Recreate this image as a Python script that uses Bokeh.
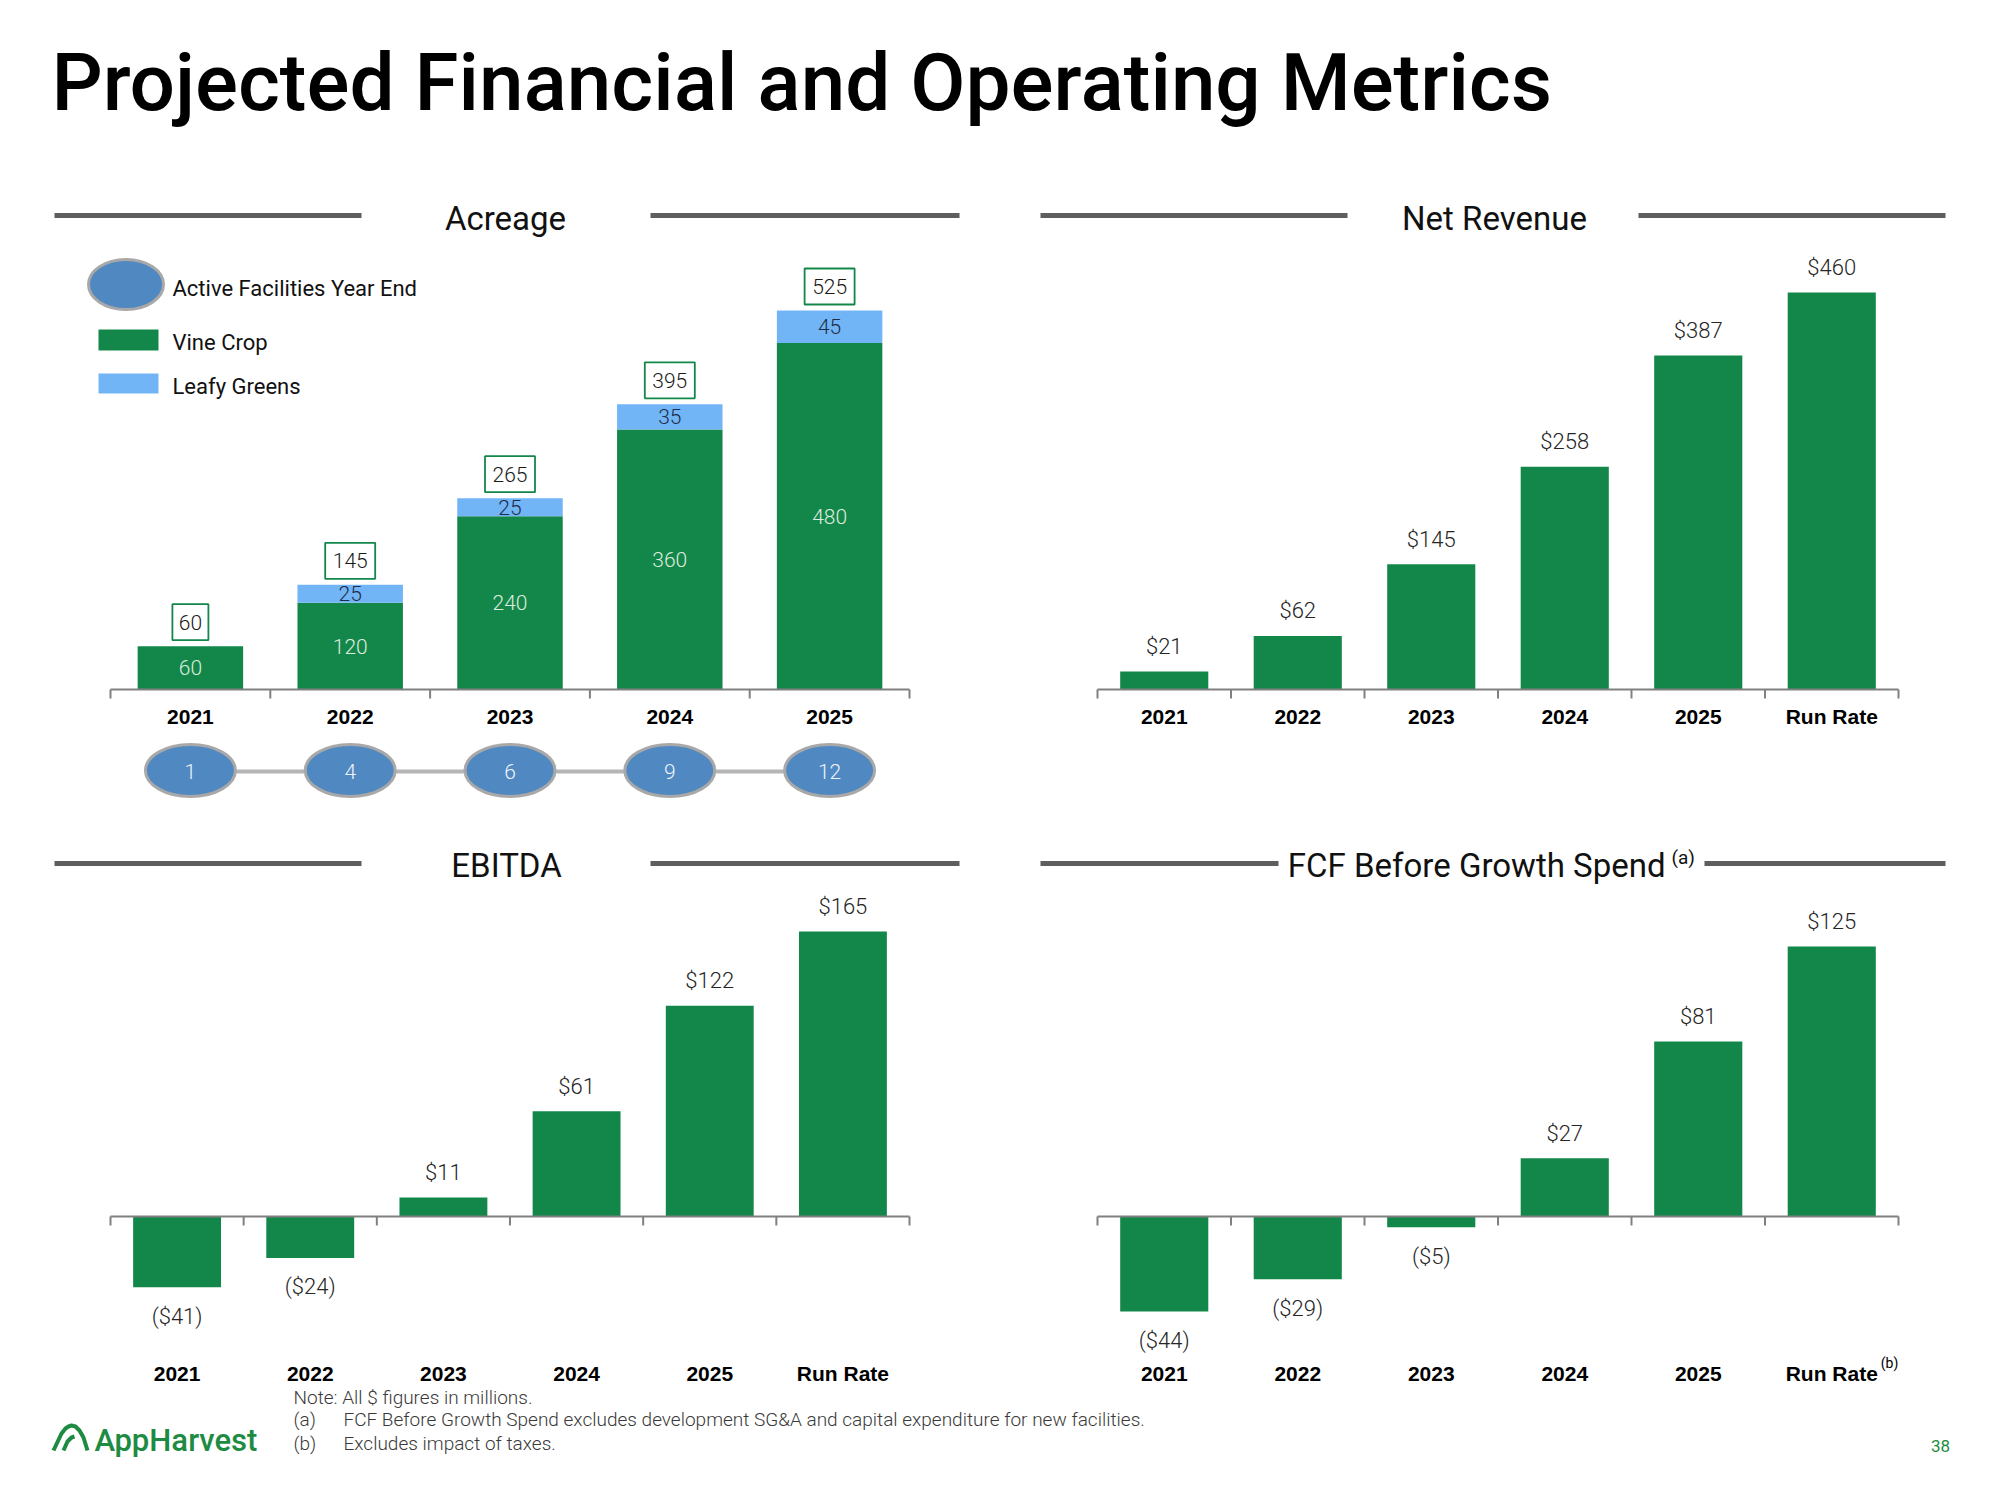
import math
from bokeh.plotting import figure
from bokeh.models import Range1d, FactorRange, Spacer
from bokeh.layouts import column, row
from bokeh.embed import file_html
from bokeh.resources import INLINE
from bokeh.core.properties import value

# ---------------- data ----------------
acre_years = ["2021", "2022", "2023", "2024", "2025"]
vine_crop = [60, 120, 240, 360, 480]
leafy_greens = [0, 25, 25, 35, 45]
facilities = [1, 4, 6, 9, 12]

fin_periods = ["2021", "2022", "2023", "2024", "2025", "Run Rate"]
net_revenue = [21, 62, 145, 258, 387, 460]
ebitda = [-41, -24, 11, 61, 122, 165]
fcf = [-44, -29, -5, 27, 81, 125]

# ---------------- style ----------------
GREEN = "#13874A"
BLUE = "#72B5F7"
ELL_FILL = "#5088C2"
ELL_LINE = "#A8A8A8"
HEAD_LINE = "#5E5E5E"
AXIS = "#808080"
LIGHT = "Roboto Light"
REG = "Roboto"
BOLD_SANS = "Liberation Sans"

_XMAP = {}


def new_fig(L, T, R, B, xr):
    p = figure(width=R - L, height=B - T, x_range=xr, y_range=Range1d(B, T),
               x_axis_location=None, y_axis_location=None,
               toolbar_location=None, output_backend="svg", min_border=0,
               outline_line_color=None, background_fill_color="white",
               border_fill_color="white")
    p.xgrid.visible = False
    p.ygrid.visible = False
    return p


def plain_fig(L, T, R, B):
    p = new_fig(L, T, R, B, Range1d(L, R))
    _XMAP[p.id] = lambda v: v
    return p


def panel(box, axis_x, factors, baseline_y, top_y, vmax):
    """Categorical x; main y range in page pixels, plus value range 'val'."""
    L, T, R, B = box
    ax0, ax1 = axis_x
    n = len(factors)
    unit = (ax1 - ax0) / n
    pad = (ax0 - L) / unit
    ppu = (baseline_y - top_y) / vmax
    xr = FactorRange(factors=factors, range_padding=pad, range_padding_units="absolute")
    p = new_fig(L, T, R, B, xr)
    p.extra_y_ranges = {"val": Range1d(-(B - baseline_y) / ppu, (baseline_y - T) / ppu)}
    _XMAP[p.id] = lambda v: (v - ax0) / unit
    return p, ppu


def X(p, v):
    f = _XMAP[p.id]
    if isinstance(v, (list, tuple)):
        return [f(a) for a in v]
    return f(v)


def txt(p, x, y, s, size, color="black", font=REG, style="normal",
        align="left", baseline="middle"):
    p.text(x=[X(p, x)], y=[y], text=[s], text_font=value(font),
           text_font_size=f"{size}px", text_font_style=style,
           text_color=color, text_align=align, text_baseline=baseline)


def hlines(p, y, segs):
    p.segment(x0=[X(p, a) for a, b in segs], x1=[X(p, b) for a, b in segs],
              y0=[y] * len(segs), y1=[y] * len(segs),
              line_width=5, line_color=HEAD_LINE)


def axis_line(p, factors, baseline_y):
    n = len(factors)
    p.segment(x0=[0], x1=[n], y0=[baseline_y], y1=[baseline_y], line_color=AXIS,
              line_width=2)
    b = list(range(n + 1))
    p.segment(x0=b, x1=b, y0=[baseline_y] * len(b), y1=[baseline_y + 9] * len(b),
              line_color=AXIS, line_width=2)


def year_labels(p, factors, y):
    p.text(x=factors, y=[y] * len(factors), text=factors, text_font=value(BOLD_SANS),
           text_font_size="21px", text_font_style="bold", text_color="black",
           text_align="center", text_baseline="middle")


def money(v):
    return f"${v}" if v >= 0 else f"(${-v})"


def value_bars(p, factors, vals):
    p.vbar(x=factors, top=vals, bottom=0, width=0.66, fill_color=GREEN, line_color=None,
           y_range_name="val")
    offs = [-25 if v >= 0 else 29 for v in vals]
    p.text(x=factors, y=vals, text=[money(v) for v in vals], y_offset=offs,
           text_font=value(LIGHT), text_font_size="22px", text_color="#262626",
           text_align="center", text_baseline="middle", y_range_name="val")


# ---------------- title band ----------------
title_fig = plain_fig(0, 0, 1984, 195)
txt(title_fig, 51, 82, "Projected Financial and Operating Metrics", 80,
    font="Roboto Medium", color="black")

# ---------------- Acreage ----------------
acre, acre_ppu = panel((0, 195, 1019, 840), (110, 909), acre_years, 689, 310, 525)
hlines(acre, 215, [(54, 361), (650, 959)])
txt(acre, 505, 218, "Acreage", 33, color="#111111", align="center")

totals = [v + l for v, l in zip(vine_crop, leafy_greens)]
acre.vbar(x=acre_years, top=vine_crop, bottom=0, width=0.66, fill_color=GREEN,
          line_color=None, y_range_name="val")
acre.vbar(x=acre_years, top=totals, bottom=vine_crop, width=0.66, fill_color=BLUE,
          line_color=None, y_range_name="val")
acre.text(x=acre_years, y=[v / 2 for v in vine_crop], text=[str(v) for v in vine_crop],
          text_font=value(LIGHT), text_font_size="21px", text_color="#DCEBDD",
          text_align="center", text_baseline="middle", y_range_name="val")
lg_x = [y for y, l in zip(acre_years, leafy_greens) if l > 0]
lg_y = [v + l / 2 for v, l in zip(vine_crop, leafy_greens) if l > 0]
lg_t = [str(l) for l in leafy_greens if l > 0]
acre.text(x=lg_x, y=lg_y, text=lg_t, text_font=value(LIGHT), text_font_size="21px",
          text_color="#1E2D4A", text_align="center", text_baseline="middle",
          y_range_name="val")
# boxed totals, 24px above each stack
box_gap = 24 / acre_ppu
acre.rect(x=acre_years, y=[t + box_gap for t in totals],
          width=[14 * len(str(t)) + 8 for t in totals], height=36,
          width_units="screen", height_units="screen", fill_color="white",
          line_color=GREEN, line_width=1.8, y_range_name="val")
acre.text(x=acre_years, y=[t + box_gap for t in totals], text=[str(t) for t in totals],
          text_font=value(LIGHT), text_font_size="21px", text_color="#1A1A1A",
          text_align="center", text_baseline="middle", y_range_name="val")
axis_line(acre, acre_years, 689)
year_labels(acre, acre_years, 716)

# facilities row
acre.line(x=acre_years, y=[771] * len(acre_years), line_color="#B5B5B5", line_width=4)
acre.ellipse(x=acre_years, y=[770] * len(acre_years), width=90, height=52,
             width_units="screen", height_units="screen", fill_color=ELL_FILL,
             line_color=ELL_LINE, line_width=3)
acre.text(x=acre_years, y=[771] * len(acre_years), text=[str(f) for f in facilities],
          text_font=value(LIGHT), text_font_size="21px", text_color="#EEF3FA",
          text_align="center", text_baseline="middle")

# legend
acre.ellipse(x=[X(acre, 125.5)], y=[284], width=75, height=50, width_units="screen",
             height_units="screen", fill_color=ELL_FILL, line_color=ELL_LINE, line_width=3)
acre.quad(left=X(acre, [98, 98]), right=X(acre, [158, 158]), top=[329, 373],
          bottom=[350, 393], fill_color=[GREEN, BLUE], line_color=None)
txt(acre, 172, 288, "Active Facilities Year End", 22, color="#111111")
txt(acre, 172, 342, "Vine Crop", 22, color="#111111")
txt(acre, 172, 386, "Leafy Greens", 22, color="#111111")

# ---------------- Net Revenue ----------------
rev, _ = panel((1019, 195, 1976, 840), (1097, 1898), fin_periods, 689, 292, 460)
hlines(rev, 215, [(1040, 1347), (1638, 1945)])
txt(rev, 1494, 218, "Net Revenue", 33, color="#111111", align="center")
value_bars(rev, fin_periods, net_revenue)
axis_line(rev, fin_periods, 689)
year_labels(rev, fin_periods, 716)

# ---------------- EBITDA ----------------
ebd, _ = panel((0, 840, 1019, 1385), (110, 909), fin_periods, 1216, 931, 165)
hlines(ebd, 863, [(54, 361), (650, 959)])
txt(ebd, 506, 865, "EBITDA", 33, color="#111111", align="center")
value_bars(ebd, fin_periods, ebitda)
axis_line(ebd, fin_periods, 1216)
year_labels(ebd, fin_periods, 1373)

# ---------------- FCF ----------------
fcf_p, _ = panel((1019, 840, 1976, 1385), (1097, 1898), fin_periods, 1216, 946, 125)
hlines(fcf_p, 863, [(1040, 1278), (1704, 1945)])
txt(fcf_p, 1665, 865, "FCF Before Growth Spend", 33, color="#111111", align="right")
txt(fcf_p, 1671, 857, "(a)", 19, color="#111111")
value_bars(fcf_p, fin_periods, fcf)
axis_line(fcf_p, fin_periods, 1216)
year_labels(fcf_p, fin_periods, 1373)
fcf_p.text(x=["Run Rate"], y=[1362], text=["(b)"], x_offset=[49],
           text_font=value(REG), text_font_size="14px", text_color="black",
           text_align="left", text_baseline="middle")

# ---------------- footer ----------------
foot = plain_fig(0, 1385, 1984, 1484)
NOTE = "#3A3A3A"
txt(foot, 293, 1397, "Note:  All $ figures in millions.", 19, color=NOTE, font=LIGHT)
txt(foot, 293, 1419, "(a)", 19, color=NOTE, font=LIGHT)
txt(foot, 343, 1419, "FCF Before Growth Spend excludes development  SG&A and capital expenditure for new facilities.",
    19, color=NOTE, font=LIGHT)
txt(foot, 293, 1443, "(b)", 19, color=NOTE, font=LIGHT)
txt(foot, 343, 1443, "Excludes impact of taxes.", 19, color=NOTE, font=LIGHT)
LOGO = "#1E8B43"
foot.line(x=[53, 61, 65, 68, 71, 75, 79, 83, 87], y=[1450, 1433, 1428, 1426, 1425, 1426, 1430, 1437, 1450],
          line_color=LOGO, line_width=4)
foot.line(x=[63, 67, 71, 74], y=[1450, 1441, 1437, 1436], line_color=LOGO, line_width=4)
txt(foot, 94, 1440, "AppHarvest", 31, color=LOGO, font="Roboto Medium")
txt(foot, 1940, 1445, "38", 17, color=LOGO, align="center")

layout = column(
    title_fig,
    row(acre, rev, Spacer(width=8, height=645)),
    row(ebd, fcf_p, Spacer(width=8, height=545)),
    foot,
)

with open("out.html", "w") as f:
    f.write(file_html(layout, INLINE, title="Projected Financial and Operating Metrics"))
